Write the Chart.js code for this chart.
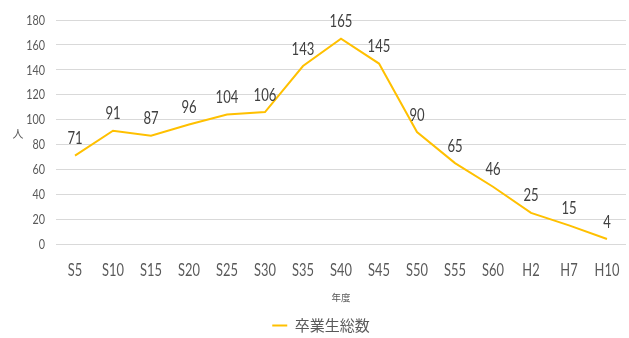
<!DOCTYPE html>
<html><head><meta charset="utf-8">
<script src="https://cdn.jsdelivr.net/npm/chart.js@4/dist/chart.umd.min.js"></script>
<style>html,body{margin:0;padding:0;background:#fff}#wrap{width:629px;height:338px}</style>
</head><body><div id="wrap"><canvas id="c" width="629" height="338"></canvas></div>
<script>
const categories = ["S5","S10","S15","S20","S25","S30","S35","S40","S45","S50","S55","S60","H2","H7","H10"];
const graduates = [71,91,87,96,104,106,143,165,145,90,65,46,25,15,4];
const seriesName = "卒業生総数";
const yTicks = [0,20,40,60,80,100,120,140,160,180];
const xTitle = "年度";
const yTitle = "人";

const LATIN = "Lato,'Noto Sans',sans-serif";
const CJK = "'Noto Sans CJK JP',sans-serif";
const PLOT_BOTTOM = 244;
const PAD_BOTTOM = -5;

function narrowText(ctx, text, x, y, font, sx, align, color) {
  ctx.save();
  ctx.font = font;
  ctx.fillStyle = color;
  ctx.textAlign = align;
  ctx.textBaseline = 'alphabetic';
  ctx.translate(x, y);
  ctx.scale(sx, 1);
  ctx.fillText(text, 0, 0);
  ctx.restore();
}

const textPlugin = {
  id: 'narrowTexts',
  afterDraw(chart) {
    const ctx = chart.ctx;
    const xs = chart.scales.x, ys = chart.scales.y;
    yTicks.forEach(v => {
      narrowText(ctx, String(v), 45, ys.getPixelForValue(v) + 4.8, "13.5px " + LATIN, 0.8, 'right', '#595959');
    });
    categories.forEach((c, i) => {
      narrowText(ctx, c, xs.getPixelForValue(i), PLOT_BOTTOM + 32, "16.5px " + LATIN, 0.78, 'center', '#595959');
    });
    const meta = chart.getDatasetMeta(0);
    meta.data.forEach((pt, i) => {
      narrowText(ctx, String(graduates[i]), pt.x, pt.y - 11.5, "17px " + LATIN, 0.77, 'center', '#404040');
    });
    ctx.save();
    ctx.font = "11px " + CJK;
    ctx.fillStyle = '#595959';
    ctx.textAlign = 'center';
    ctx.textBaseline = 'middle';
    ctx.fillText(yTitle, 18, (chart.chartArea.top + chart.chartArea.bottom) / 2 + 2);
    ctx.restore();
  }
};

new Chart(document.getElementById('c'), {
  type: 'line',
  data: {
    labels: categories,
    datasets: [{
      label: seriesName,
      data: graduates,
      borderColor: '#FFC000',
      backgroundColor: '#FFC000',
      borderWidth: 2,
      pointRadius: 0,
      pointStyle: 'line',
      tension: 0
    }]
  },
  options: {
    responsive: false,
    animation: false,
    devicePixelRatio: 1,
    layout: { padding: { left: 16, right: 3, top: 20, bottom: PAD_BOTTOM } },
    plugins: {
      legend: {
        position: 'bottom',
        labels: {
          usePointStyle: true,
          pointStyleWidth: 15,
          boxHeight: 2,
          color: '#595959',
          font: { family: CJK, size: 15 },
          padding: 3
        }
      },
      tooltip: { enabled: false }
    },
    scales: {
      x: {
        offset: true,
        grid: { display: false, drawTicks: false },
        border: { display: false },
        ticks: { display: false },
        title: { display: true, text: xTitle, color: '#595959', font: { family: CJK, size: 9.5 }, padding: { top: 0, bottom: 12 } },
        afterFit(axis) {
          const lg = axis.chart.legend;
          const L = lg && lg.height ? lg.height : 24;
          axis.height = 338 - PAD_BOTTOM - PLOT_BOTTOM - L;
        }
      },
      y: {
        min: 0, max: 180,
        afterBuildTicks(axis) { axis.ticks = yTicks.map(v => ({ value: v })); },
        grid: { color: '#d9d9d9', drawTicks: false },
        border: { display: false },
        ticks: { display: false },
        afterFit(axis) { axis.width = 40; }
      }
    }
  },
  plugins: [textPlugin]
});
</script>
</body></html>
